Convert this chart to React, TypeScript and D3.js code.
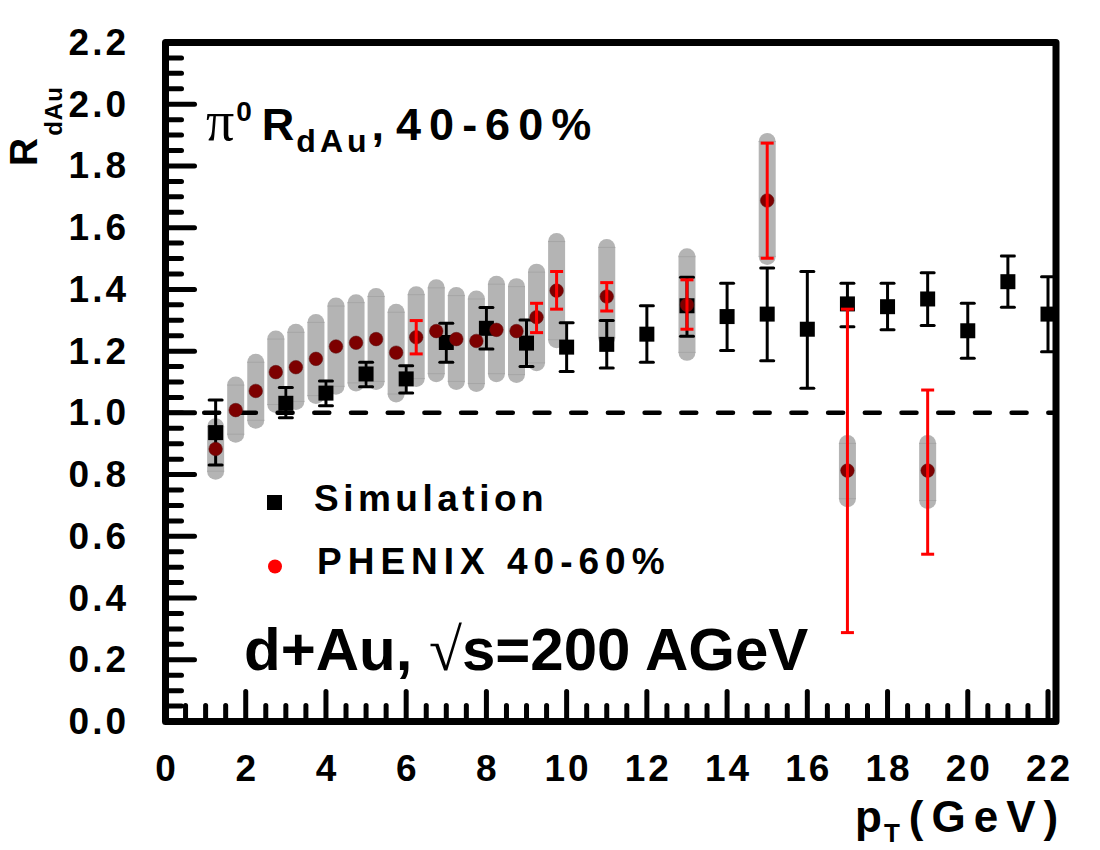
import React from 'react';
import * as d3 from 'd3';

// ---------- data ----------
const simPt = [1.25, 3, 4, 5, 6, 7, 8, 9, 10, 11, 12, 13, 14, 15, 16, 17, 18, 19, 20, 21, 22];
const simR = [0.936, 1.031, 1.064, 1.126, 1.110, 1.228, 1.274, 1.226, 1.213, 1.222, 1.255, 1.347, 1.312, 1.320, 1.271, 1.353, 1.344, 1.369, 1.266, 1.425, 1.320];
const simLo = [0.831, 0.984, 1.023, 1.085, 1.064, 1.164, 1.207, 1.150, 1.134, 1.145, 1.164, 1.248, 1.202, 1.169, 1.080, 1.279, 1.269, 1.283, 1.177, 1.342, 1.198];
const simHi = [1.042, 1.082, 1.103, 1.164, 1.153, 1.290, 1.341, 1.301, 1.292, 1.299, 1.347, 1.439, 1.420, 1.469, 1.458, 1.420, 1.420, 1.454, 1.355, 1.508, 1.441];

const phxPt = [1.25, 1.75, 2.25, 2.75, 3.25, 3.75, 4.25, 4.75, 5.25, 5.75, 6.25, 6.75, 7.25, 7.75, 8.25, 8.75, 9.25, 9.75, 11, 13, 15, 17, 19];
const phxR = [0.883, 1.009, 1.071, 1.132, 1.148, 1.175, 1.215, 1.227, 1.239, 1.195, 1.245, 1.265, 1.239, 1.233, 1.269, 1.265, 1.310, 1.396, 1.377, 1.350, 1.688, 0.813, 0.813];
const phxSysLo = [0.811, 0.931, 0.976, 1.027, 1.037, 1.056, 1.086, 1.097, 1.102, 1.061, 1.111, 1.127, 1.102, 1.095, 1.127, 1.124, 1.162, 1.237, 1.243, 1.196, 1.507, 0.722, 0.716];
const phxSysHi = [0.955, 1.090, 1.164, 1.239, 1.261, 1.293, 1.346, 1.357, 1.377, 1.326, 1.383, 1.405, 1.380, 1.369, 1.417, 1.409, 1.456, 1.555, 1.536, 1.506, 1.879, 0.901, 0.901];

const statPt = [6.25, 9.25, 9.75, 11, 13, 15, 17, 19];
const statLo = [1.191, 1.260, 1.336, 1.330, 1.271, 1.501, 0.288, 0.542];
const statHi = [1.299, 1.355, 1.458, 1.422, 1.431, 1.874, 1.336, 1.074];

const xMajor = [0, 2, 4, 6, 8, 10, 12, 14, 16, 18, 20, 22];
const yMajor = [0, 0.2, 0.4, 0.6, 0.8, 1.0, 1.2, 1.4, 1.6, 1.8, 2.0, 2.2];

const legendLabels = ['Simulation', 'PHENIX 40-60%'];

// ---------- layout ----------
const W = 1100, H = 850;
const L = 165.5, R = 1056, T = 42.5, B = 721.5;
const x = d3.scaleLinear().domain([0, 22]).range([L, 1048]);
const y = d3.scaleLinear().domain([0, 2.2]).range([B, T]);

const SANS = '"Liberation Sans", Arial, Helvetica, sans-serif';
const SERIF = '"Liberation Serif", "Times New Roman", serif';

export default function App() {
  const xMinor = d3.range(0.5, 22.01, 0.5).filter(v => Math.abs(v / 2 - Math.round(v / 2)) > 1e-6);
  const yMinor = d3.range(0.05, 2.2, 0.05).filter(v => Math.abs(v / 0.2 - Math.round(v / 0.2)) > 1e-6);
  const capW = 6.5;
  const sq = 15;

  return (
    <svg width={W} height={H} style={{ position: 'absolute', left: 0, top: 0, background: '#fff' }}
      fontFamily={SANS} fontWeight="bold">
      {/* systematic bands */}
      <g>
        {phxPt.map((p, i) => (
          <g key={'b' + i}>
            <line x1={x(p)} x2={x(p)} y1={y(phxSysLo[i])} y2={y(phxSysHi[i])}
              stroke="#b4b4b4" strokeWidth={17} strokeLinecap="round" />
            <line x1={x(p) - 8.5} x2={x(p) + 8.5} y1={y(phxSysLo[i])} y2={y(phxSysLo[i])} stroke="#a6a6a6" strokeWidth={1} />
            <line x1={x(p) - 8.5} x2={x(p) + 8.5} y1={y(phxSysHi[i])} y2={y(phxSysHi[i])} stroke="#a6a6a6" strokeWidth={1} />
          </g>
        ))}
      </g>

      {/* dashed line at 1 */}
      <line x1={L} x2={R} y1={y(1)} y2={y(1)} stroke="#000" strokeWidth={4.5}
        strokeDasharray="15 21.7" strokeDashoffset={-2} strokeLinecap="round" />

      {/* simulation */}
      <g>
        {simPt.map((p, i) => (
          <g key={'s' + i} stroke="#000" strokeWidth={3}>
            <line x1={x(p)} x2={x(p)} y1={y(simLo[i])} y2={y(simHi[i])} />
            <line x1={x(p) - capW} x2={x(p) + capW} y1={y(simLo[i])} y2={y(simLo[i])} strokeLinecap="round" />
            <line x1={x(p) - capW} x2={x(p) + capW} y1={y(simHi[i])} y2={y(simHi[i])} strokeLinecap="round" />
            <rect x={x(p) - sq / 2} y={y(simR[i]) - sq / 2} width={sq} height={sq} fill="#000" stroke="none" />
          </g>
        ))}
      </g>

      {/* PHENIX points */}
      <g>
        {phxPt.map((p, i) => (
          <circle key={'c' + i} cx={x(p)} cy={y(phxR[i])} r={6.8} fill="#7d0000" stroke="#5a1010" strokeOpacity={0.5} strokeWidth={1} />
        ))}
        {statPt.map((p, i) => (
          <g key={'e' + i} stroke="#ff0000" strokeWidth={3}>
            <line x1={x(p)} x2={x(p)} y1={y(statLo[i])} y2={y(statHi[i])} />
            <line x1={x(p) - capW} x2={x(p) + capW} y1={y(statLo[i])} y2={y(statLo[i])} />
            <line x1={x(p) - capW} x2={x(p) + capW} y1={y(statHi[i])} y2={y(statHi[i])} />
          </g>
        ))}
      </g>

      {/* ticks */}
      <g stroke="#000" strokeLinecap="round" strokeWidth={5}>
        {yMajor.slice(1, -1).map(v => <line key={'ym' + v} x1={L} x2={L + 29} y1={y(v)} y2={y(v)} />)}
        {yMinor.map(v => <line key={'yn' + v} x1={L} x2={L + 16} y1={y(v)} y2={y(v)} />)}
        {xMajor.slice(1).map(v => <line key={'xm' + v} x1={x(v)} x2={x(v)} y1={B} y2={B - 30} />)}
        {xMinor.map(v => <line key={'xn' + v} x1={x(v)} x2={x(v)} y1={B} y2={B - 16} />)}
      </g>

      {/* frame */}
      <rect x={L} y={T} width={R - L} height={B - T} fill="none" stroke="#000" strokeWidth={7} strokeLinejoin="round" />

      {/* tick labels */}
      <g fontSize={37} fill="#000" letterSpacing={3}>
        {yMajor.map(v => (
          <text key={'yl' + v} x={129} y={y(v)} textAnchor="end" dominantBaseline="central">{v.toFixed(1)}</text>
        ))}
        {xMajor.map(v => (
          <text key={'xl' + v} x={x(v) + 1.5} y={781} textAnchor="middle">{String(v)}</text>
        ))}
      </g>

      {/* axis titles */}
      <text transform="translate(37,166) rotate(-90)" fontSize={39} fill="#000">
        R<tspan fontSize={24} dy={25} dx={2} letterSpacing={1}>dAu</tspan>
      </text>
      <text x={855} y={832} fontSize={44} fill="#000">
        p<tspan fontSize={26} dy={10} dx={2}>T</tspan>
        <tspan dy={-10} dx={9} letterSpacing={8}>(GeV)</tspan>
      </text>

      {/* title */}
      <text x={206} y={140} fontSize={45} fill="#000">
        <tspan fontFamily={SERIF} fontWeight="normal" fontSize={56}>π</tspan>
        <tspan fontSize={28} dy={-19} dx={2}>0</tspan>
        <tspan dy={19} dx={10}>R</tspan>
        <tspan fontSize={32} dy={12} dx={2} letterSpacing={4}>dAu</tspan>
        <tspan dy={-12} dx={1}>,</tspan>
        <tspan dx={12} letterSpacing={8}>40-60%</tspan>
      </text>

      {/* collision label */}
      <text x={244} y={670} fontSize={60} fill="#000">
        d+Au, <tspan fontFamily={SERIF} fontWeight="normal">√</tspan>s=200 AGeV
      </text>

      {/* legend */}
      <rect x={267} y={495} width={15} height={15} fill="#000" />
      <circle cx={275} cy={566.5} r={7} fill="#ff0000" />
      <text x={314} y={511} fontSize={37} fill="#000" letterSpacing={4.5}>{legendLabels[0]}</text>
      <text x={317} y={574} fontSize={37} fill="#000" letterSpacing={6}>{legendLabels[1]}</text>
    </svg>
  );
}
